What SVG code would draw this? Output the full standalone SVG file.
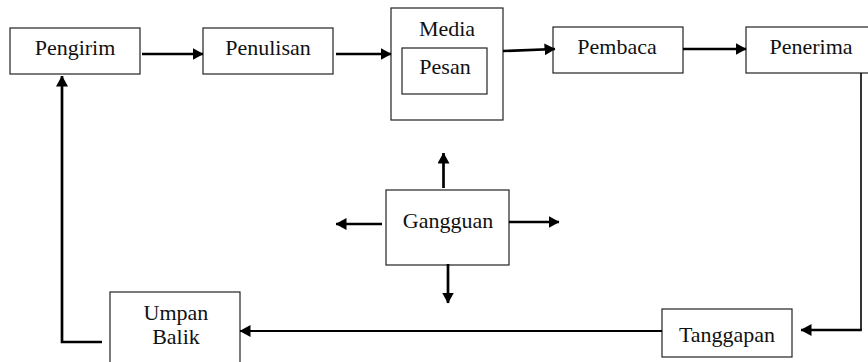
<svg xmlns="http://www.w3.org/2000/svg" width="868" height="362" viewBox="0 0 868 362">
<defs>
<style>
.box{fill:#fff;stroke:#222;stroke-width:1.2}
.t{font-family:"Liberation Serif","Times New Roman",serif;font-size:22px;fill:#111;text-anchor:middle}
.c{fill:none;stroke:#000;stroke-width:2.7}
</style>
<marker id="ah" viewBox="0 0 11 12" refX="10.5" refY="6" markerWidth="11" markerHeight="12" markerUnits="userSpaceOnUse" orient="auto">
<path d="M0,0 L11,6 L0,12 z" fill="#000"/>
</marker>
</defs>
<rect width="868" height="362" fill="#fff"/>
<g id="pengirim"><rect class="box" x="10" y="28" width="130" height="46"/><text class="t" x="75" y="55">Pengirim</text></g>
<g id="penulisan"><rect class="box" x="203" y="28" width="130" height="46"/><text class="t" x="268" y="55">Penulisan</text></g>
<g id="media"><rect class="box" x="391" y="8" width="112" height="112"/><text class="t" x="447" y="36">Media</text>
<g id="pesan"><rect class="box" x="402" y="48" width="85" height="46"/><text class="t" x="445" y="74">Pesan</text></g></g>
<g id="pembaca"><rect class="box" x="553" y="27" width="130" height="46"/><text class="t" x="617" y="54">Pembaca</text></g>
<g id="penerima"><rect class="box" x="746" y="27" width="130" height="46"/><text class="t" x="811" y="54">Penerima</text></g>
<g id="gangguan"><rect class="box" x="386" y="190" width="123" height="75"/><text class="t" x="448" y="228">Gangguan</text></g>
<g id="tanggapan"><rect class="box" x="662" y="309" width="130" height="48"/><text class="t" x="727" y="342">Tanggapan</text></g>
<g id="umpanbalik"><rect class="box" x="110" y="292" width="130" height="80"/><text class="t" x="176" y="320">Umpan</text><text class="t" x="176" y="344">Balik</text></g>
<g id="connectors">
<line class="c" x1="142" y1="54" x2="203" y2="54" marker-end="url(#ah)"/>
<line class="c" x1="336" y1="54" x2="391" y2="54" marker-end="url(#ah)"/>
<line class="c" x1="503" y1="51" x2="555" y2="49" marker-end="url(#ah)"/>
<line class="c" x1="683" y1="49" x2="746" y2="49" marker-end="url(#ah)"/>
<path d="M861,73 V330" fill="none" stroke="#000" stroke-width="1.6"/>
<path class="c" d="M861.8,330 H801" marker-end="url(#ah)"/>
<line x1="662" y1="331" x2="240" y2="331" stroke="#000" stroke-width="2" marker-end="url(#ah)"/>
<path class="c" d="M102,342 H62 V76" marker-end="url(#ah)"/>
<line class="c" x1="443.5" y1="188" x2="443.5" y2="153" marker-end="url(#ah)"/>
<line class="c" x1="382" y1="224" x2="336" y2="224" marker-end="url(#ah)"/>
<line class="c" x1="509" y1="222" x2="559" y2="222" marker-end="url(#ah)"/>
<line class="c" x1="448" y1="264" x2="448" y2="303" marker-end="url(#ah)"/>
</g>
</svg>
